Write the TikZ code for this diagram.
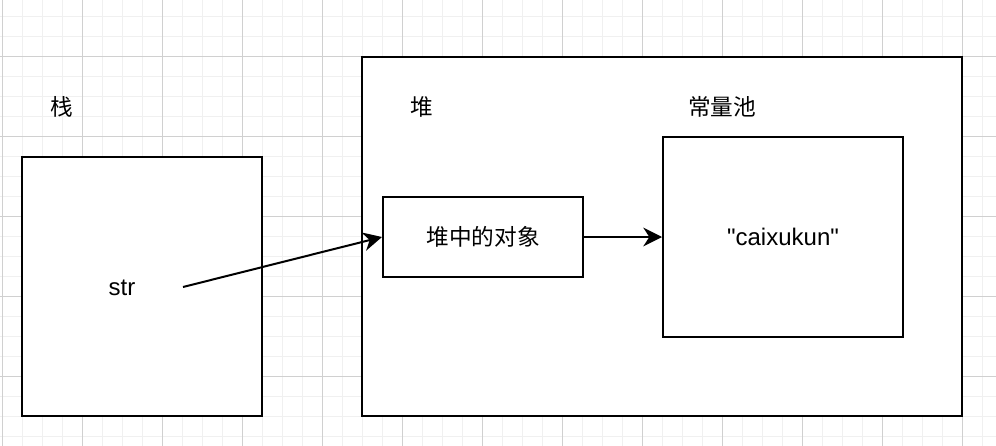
\documentclass[tikz,border=0pt]{standalone}
\usepackage{fontspec}
\setmainfont{Liberation Sans}[Ligatures=TeXOff]
\newfontfamily\cjk{Noto Sans CJK SC}
\usetikzlibrary{arrows.meta,positioning}
\definecolor{gridminor}{HTML}{F0F0F0}
\definecolor{gridmajor}{HTML}{D0D0D0}
\tikzset{
  >={Stealth[length=14pt,width=14pt,inset=4.5pt]},
  minorline/.style={gridminor,line width=0.75pt},
  majorline/.style={gridmajor,line width=0.75pt},
  membox/.style={draw=black,line width=1.5pt,fill=white,inner sep=0pt},
  zhlbl/.style={font=\cjk\fontsize{17}{20}\selectfont,inner sep=0pt},
  enlbl/.style={font=\fontsize{18}{20}\selectfont,inner sep=0pt},
  ptr/.style={->,line width=1.5pt},
}
\begin{document}
\begin{tikzpicture}[x=0.75pt,y=-0.75pt]
  \useasboundingbox (0,0) rectangle (996,446);
  \fill[white] (0,0) rectangle (996,446);
  % background grid
  \foreach \gx in {2,22,...,982} \draw[minorline] (\gx,0) -- (\gx,446);
  \foreach \gy in {16,36,...,436} \draw[minorline] (0,\gy) -- (996,\gy);
  \foreach \gx in {2,82,...,962} \draw[majorline] (\gx,0) -- (\gx,446);
  \foreach \gy in {56,136,...,376} \draw[majorline] (0,\gy) -- (996,\gy);

  % memory areas
  \node[membox,minimum width=180pt,minimum height=194.25pt] (stack) at (142,286.5) {};
  \node[membox,minimum width=450pt,minimum height=269.25pt] (heap) at (662,236.5) {};
  \node[membox,minimum width=150pt,minimum height=60pt] (obj) at (483,237) {};
  \node[membox,minimum width=180pt,minimum height=150pt] (pool) at (783,237) {};

  % labels
  \node[zhlbl] (stacklbl) at (62,107) {栈};
  \node[zhlbl] (heaplbl) at (422,107) {堆};
  \node[zhlbl] (poollbl) at (722,107) {常量池};
  \node[zhlbl] (objlbl) at (obj.center) {堆中的对象};
  \node[enlbl] (strlbl) at (122,288) {str};
  \node[enlbl] (strval) at (pool.center) {"caixukun"};

  % references
  \coordinate (strref) at (183,287);
  \draw[ptr] (strref) -- (obj.west);
  \draw[ptr] (obj.east) -- (pool.west);
\end{tikzpicture}
\end{document}
